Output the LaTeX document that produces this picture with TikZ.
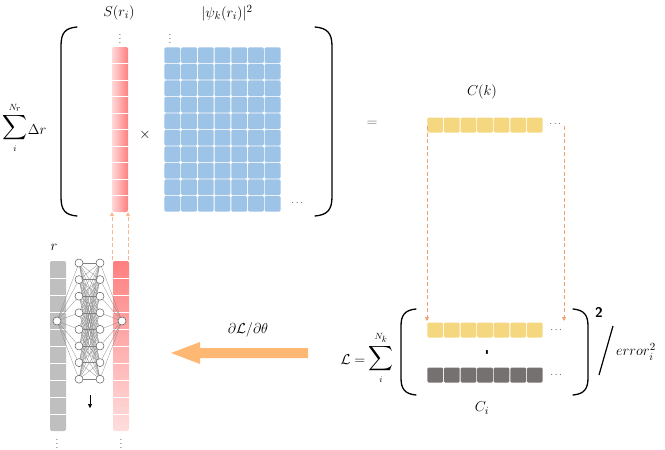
\documentclass[tikz,border=0pt]{standalone}
\usepackage{amsmath}
\usetikzlibrary{arrows.meta}
\definecolor{cblue}{HTML}{9DC3E6}
\definecolor{cyel}{HTML}{F5D77F}
\definecolor{cdgray}{HTML}{767171}
\definecolor{clgray}{HTML}{BFBFBF}
\definecolor{corange}{HTML}{FFB874}
\definecolor{cdash}{HTML}{F0A070}
\definecolor{cdashl}{HTML}{F6B88E}
\definecolor{cnet}{HTML}{808080}
\begin{document}
\begin{tikzpicture}[x=1pt,y=-1pt,
  lbl/.style={inner sep=0pt,font=\fontsize{15}{17}\selectfont},
  bigsum/.style={inner sep=0pt,font=\fontsize{18}{20}\selectfont},
  dots/.style={inner sep=0pt,text=black!70,font=\fontsize{10}{11}\selectfont},
  neuron/.style={circle,draw=black!65,fill=white,line width=0.5pt,minimum size=8pt,inner sep=0pt},
  netline/.style={draw=cnet,line width=0.25pt},
  paren/.style={line width=1.3pt,line cap=round},
  longdash/.style={draw=cdash,line width=0.9pt,dash pattern=on 4pt off 2.5pt,-{Triangle[length=4pt,width=4pt]}},
  shortdash/.style={draw=cdashl,line width=0.9pt,dash pattern=on 4pt off 2.5pt,-{Triangle[length=4pt,width=4pt]}},
  sep/.style={draw=white,line width=0.9pt}]
\useasboundingbox (0,0) rectangle (665,450);

% ---------- top: S(r_i) column ----------
\shade[left color=red!15,right color=red!50,rounded corners=2] (112,47) rectangle (128,212);
\foreach \j in {1,...,9} \draw[sep] (112,{47+\j*16.5}) -- (128,{47+\j*16.5});

% ---------- blue matrix ----------
\foreach \i in {0,...,6}
  \foreach \j in {0,...,9}
    \fill[cblue,rounded corners=1.2] ({164+\i*16.714+0.45},{47+\j*16.5+0.45}) rectangle ++(15.8,15.6);

% labels top
\node[lbl] (slab) at (119,13) {$S(r_i)$};
\node[lbl] (psilab) at (227,13) {$|\psi_k(r_i)|^2$};
\node[dots] (vd1) at (120,36) {$\vdots$};
\node[dots] (vd2) at (170,36) {$\vdots$};
\node[lbl] (times) at (145,135) {$\times$};
\node[dots] (hd1) at (298,203) {$\cdots$};

% sum
\node[bigsum] (sumr) at (15,128) {$\displaystyle\sum_{\scriptscriptstyle i}^{\scriptscriptstyle N_r}$};
\node[lbl] (dr) at (37,130) {$\Delta r$};

% big parens
\draw[paren] (77,27) .. controls (65,28) and (61,33) .. (61,46) -- (61,197) .. controls (61,210) and (65,215) .. (77,216);
\draw[paren] (315,27) .. controls (327,28) and (332,33) .. (332,46) -- (332,197) .. controls (332,210) and (327,215) .. (315,216);

% equals and C(k)
\node[lbl,text=black!60] (eq) at (372,124) {$=$};
\node[lbl] (cklab) at (482,92) {$C(k)$};
\foreach \i in {0,...,6}
  \fill[cyel,rounded corners=1.2] ({427+\i*16.57+0.45},117.5) rectangle ++(15.7,15);
\node[dots] (hd2) at (556,124) {$\cdots$};

% ---------- loss ----------
\foreach \i in {0,...,6}
  \fill[cyel,rounded corners=1.2] ({427+\i*16.57+0.45},322.5) rectangle ++(15.7,15);
\foreach \i in {0,...,6}
  \fill[cdgray,rounded corners=1.2] ({427+\i*16.57+0.45},367.5) rectangle ++(15.7,15);
\node[dots] (hd3) at (557,330) {$\cdots$};
\node[dots] (hd4) at (557,375) {$\cdots$};
\node[inner sep=0pt,font=\sffamily\bfseries\fontsize{14}{15}\selectfont] (tick) at (487,355) {\textquotesingle};
\draw[paren] (416,309) .. controls (405,310) and (401,315) .. (401,326) -- (401,378) .. controls (401,389) and (405,394) .. (416,395);
\draw[paren] (573,309) .. controls (584,310) and (588,315) .. (588,326) -- (588,378) .. controls (588,389) and (584,394) .. (573,395);
\node[inner sep=0pt,font=\sffamily\bfseries\fontsize{14}{16}\selectfont] (two) at (599,312) {2};
\coordinate (sl1) at (613,326);
\coordinate (sl2) at (599,375);
\draw[line width=1.2pt] (sl1) -- (sl2);
\node[lbl,anchor=west] (err) at (616,352) {$error_i^2$};
\node[lbl] (Leq) at (353,360) {$\mathcal{L}=$};
\node[bigsum] (sumk) at (381,358) {$\displaystyle\sum_{\scriptscriptstyle i}^{\scriptscriptstyle N_k}$};
\node[lbl] (cilab) at (482,408) {$C_i$};

% long dashed arrows
\coordinate (la1) at (427,126);
\coordinate (la2) at (427,321);
\coordinate (lb1) at (564,126);
\coordinate (lb2) at (564,321);
\draw[longdash] (la1) -- (la2);
\draw[longdash] (lb1) -- (lb2);

% ---------- bottom left: network ----------
\fill[clgray,rounded corners=2] (50,261) rectangle (66,431);
\foreach \j in {1,...,9} \draw[sep] (50,{261+\j*17}) -- (66,{261+\j*17});
\shade[top color=red!50,bottom color=red!13,rounded corners=2] (113,261) rectangle (129,431);
\foreach \j in {1,...,9} \draw[sep] (113,{261+\j*17}) -- (129,{261+\j*17});

\node[neuron] (in) at (57,321) {};
\node[neuron] (out) at (122,321) {};
\foreach \k in {1,...,8} {
  \node[neuron] (a\k) at (79,{263+(\k-1)*16.6}) {};
  \node[neuron] (b\k) at (100,{263+(\k-1)*16.6}) {};
}
\foreach \k in {1,...,8} {
  \draw[netline] (in) -- (a\k);
  \draw[netline] (b\k) -- (out);
  \foreach \m in {1,...,8} \draw[netline] (a\k) -- (b\m);
}
\node[lbl] (rlab) at (54,247) {$r$};
\coordinate (da1) at (90,395);
\coordinate (da2) at (90,408);
\draw[line width=0.6pt,-{Triangle[length=4pt,width=4pt]}] (da1) -- (da2);
\node[dots] (vd3) at (57,441) {$\vdots$};
\node[dots] (vd4) at (121,441) {$\vdots$};

% short dashed arrows up
\coordinate (ua1) at (112,260);
\coordinate (ua2) at (112,212);
\coordinate (ub1) at (128,260);
\coordinate (ub2) at (128,212);
\draw[shortdash] (ua1) -- (ua2);
\draw[shortdash] (ub1) -- (ub2);

% big orange arrow
\fill[corange] (171,353) -- (200,342) -- (200,348) -- (308,348) -- (308,358) -- (200,358) -- (200,364) -- cycle;
\node[lbl] (grad) at (248,330) {$\partial\mathcal{L}/\partial\theta$};
\end{tikzpicture}
\end{document}
